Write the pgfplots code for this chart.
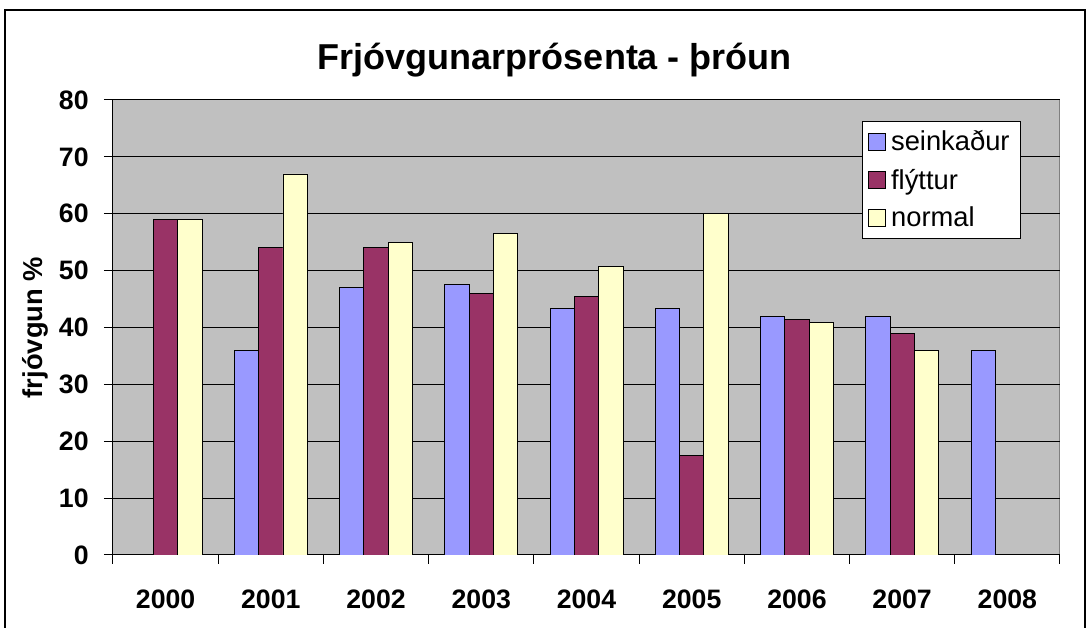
\documentclass[border=0pt]{standalone}
\usepackage{pgfplots}
\pgfplotsset{compat=1.18}
\usepackage{fontspec}
\setmainfont{Liberation Sans}
\definecolor{plotgray}{HTML}{C0C0C0}
\definecolor{cseink}{HTML}{9999FF}
\definecolor{cflytt}{HTML}{993366}
\definecolor{cnorm}{HTML}{FFFFCC}
\begin{document}
\begin{tikzpicture}
\useasboundingbox (-84.75pt,-54.75pt) rectangle (732pt,416.25pt);
\draw[black, line width=0.9pt] (-81pt,-70pt) -- (-81pt,408.75pt) -- (729pt,408.75pt) -- (729pt,-70pt);
\begin{axis}[
  at={(0pt,0pt)}, anchor=south west,
  scale only axis, width=710.25pt, height=341.25pt,
  xmin=-0.5, xmax=8.5, ymin=0, ymax=80,
  ybar=0pt, bar width=0.231,
  ytick={0,10,...,80},
  xtick={-0.5,0.5,...,8.5}, x tick label as interval,
  xticklabels={2000,2001,2002,2003,2004,2005,2006,2007,2008},
  ymajorgrids, grid style={black, line width=0.75pt},
  axis background/.style={fill=plotgray, draw=gray, line width=0.75pt},
  axis x line=bottom, axis y line=left,
  axis line style={-, black, line width=0.75pt},
  tick align=outside, major tick length=6.75pt,
  tick style={black, line width=0.75pt},
  /pgf/number format/assume math mode=true,
  tick label style={font=\fontsize{20}{24}\selectfont\bfseries},
  yticklabel style={xshift=-8pt},
  xticklabel style={yshift=-16pt},
  title={Frjóvgunarprósenta - þróun},
  title style={at={(axis description cs:0.4667,1.050)}, anchor=base, font=\fontsize{27}{32}\selectfont\bfseries},
  ylabel={frjóvgun \%},
  every axis y label/.style={at={(axis description cs:-0.0824,0.5)}, rotate=90, anchor=center, font=\fontsize{20.5}{24}\selectfont\bfseries},
  legend style={at={(axis description cs:0.791,0.954)}, anchor=north west, draw=black, fill=white, line width=0.75pt,
    font=\fontsize{20.5}{24}\selectfont, row sep=8pt, inner xsep=4pt, inner ysep=5pt,
    nodes={inner xsep=4pt}},
  legend cell align=left,
  legend image code/.code={\draw[#1, line width=0.6pt] (0pt,-6.4pt) rectangle (12.8pt,6.4pt);},
]
\addplot[fill=cseink, draw=black, line width=0.6pt] coordinates {(1,36) (2,47) (3,47.5) (4,43.4) (5,43.4) (6,42) (7,42) (8,36)};
\addplot[fill=cflytt, draw=black, line width=0.6pt] coordinates {(0,59) (1,54) (2,54) (3,46) (4,45.4) (5,17.5) (6,41.4) (7,39)};
\addplot[fill=cnorm, draw=black, line width=0.6pt] coordinates {(0,59) (1,67) (2,55) (3,56.6) (4,50.7) (5,60) (6,40.9) (7,36)};
\legend{seinkaður, flýttur, normal}
\end{axis}
\end{tikzpicture}
\end{document}
